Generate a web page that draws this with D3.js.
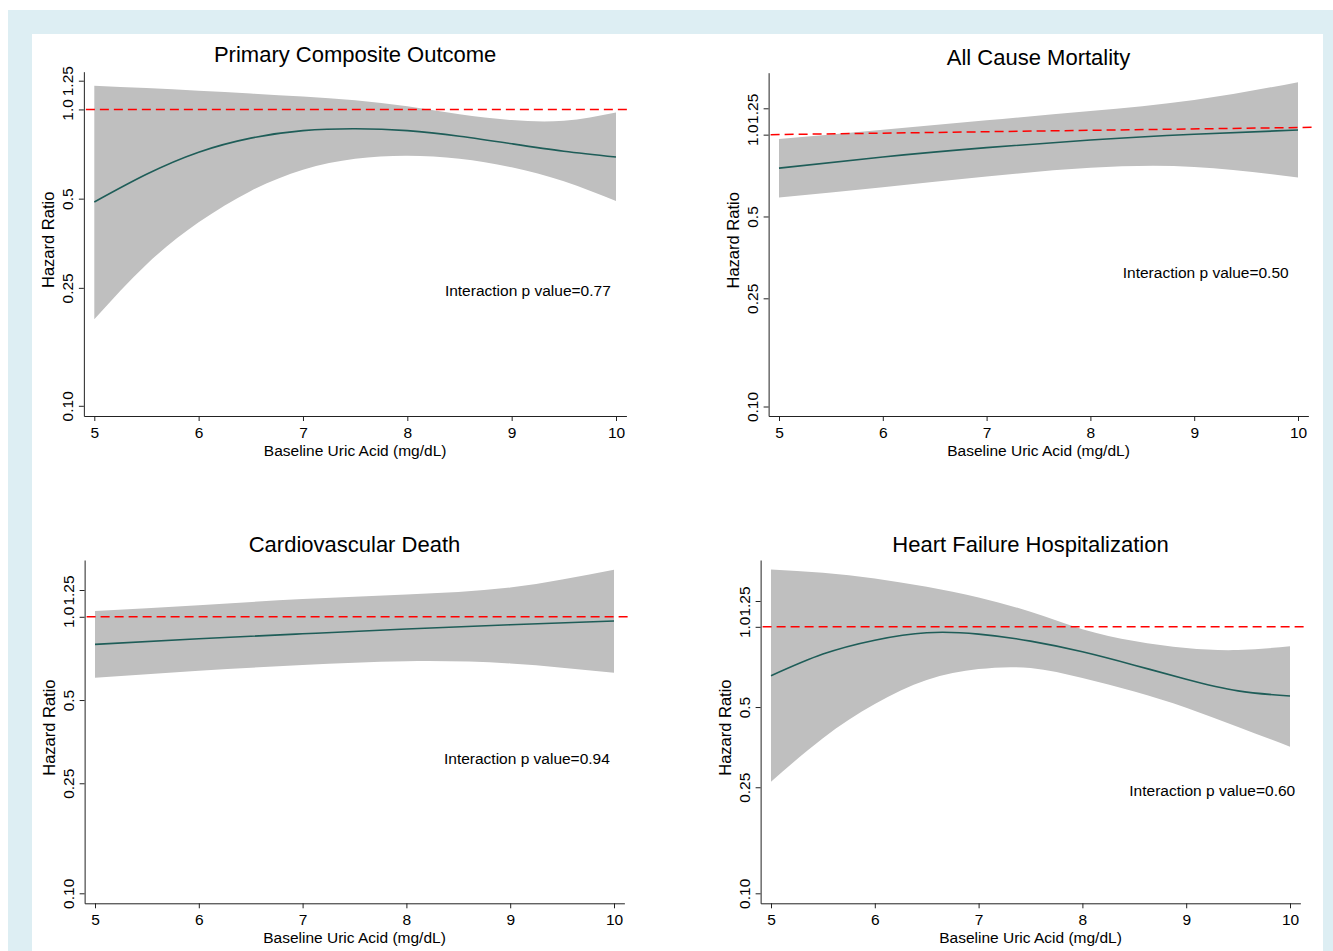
<!DOCTYPE html>
<html>
<head>
<meta charset="utf-8">
<script src="https://cdn.jsdelivr.net/npm/d3@7"></script>
<style>
  body { margin: 0; background: #fff; }
  svg { display: block; }
  text { font-family: "Liberation Sans", Arial, Helvetica, sans-serif; fill: #000; }
</style>
</head>
<body>
<svg id="chart" width="1333" height="951"></svg>
<script>
// ---- data ----
const xHalf  = [5, 5.5, 6, 6.5, 7, 7.5, 8, 8.5, 9, 9.5, 10];
const xWhole = [5, 6, 7, 8, 9, 10];
const xTickVals = [5, 6, 7, 8, 9, 10];
const yTickVals = [0.1, 0.25, 0.5, 1, 1.25];
const yTickLabels = ["0.10", "0.25", "0.5", "1.0", "1.25"];
const titles = ["Primary Composite Outcome", "All Cause Mortality", "Cardiovascular Death", "Heart Failure Hospitalization"];
const pValues = ["0.77", "0.50", "0.94", "0.60"];

// primary composite outcome
const p1Hr = [0.487, 0.604, 0.717, 0.800, 0.848, 0.861, 0.848, 0.812, 0.766, 0.723, 0.691];
const p1Lo = [0.196, 0.300, 0.416, 0.531, 0.626, 0.682, 0.698, 0.682, 0.638, 0.572, 0.491];
const p1Hi = [1.202, 1.180, 1.157, 1.132, 1.105, 1.073, 1.024, 0.964, 0.921, 0.916, 0.977];
// all cause mortality
const p2Hr = [0.753, 0.828, 0.896, 0.956, 1.003, 1.040];
const p2Lo = [0.587, 0.641, 0.701, 0.755, 0.761, 0.695];
const p2Hi = [0.964, 1.043, 1.129, 1.222, 1.341, 1.560];
// cardiovascular death
const p3Hr = [0.795, 0.833, 0.868, 0.903, 0.936, 0.965];
const p3Lo = [0.602, 0.638, 0.669, 0.691, 0.678, 0.627];
const p3Hi = [1.049, 1.102, 1.159, 1.205, 1.277, 1.480];
// heart failure hospitalization
const p4Hr = [0.655, 0.790, 0.891, 0.950, 0.939, 0.884, 0.806, 0.718, 0.636, 0.575, 0.550];
const p4Lo = [0.262, 0.382, 0.513, 0.631, 0.694, 0.700, 0.642, 0.572, 0.497, 0.421, 0.355];
const p4Hi = [1.641, 1.594, 1.519, 1.413, 1.289, 1.138, 0.980, 0.884, 0.832, 0.818, 0.846];

// reference line (HR=1) end values, left and right
const refLines = [[1, 1], [1, 1.064], [1, 1], [1, 1]];

// ---- layout ----
const panels = [
  { xs: xHalf,  hr: p1Hr, lo: p1Lo, hi: p1Hi, x5: 94.3, x10: 616, y10: 405.8, y125: 80.7, top: 71.7, bottom: 416,   titleY: 62,  pAt: [9.95, 0.245] },
  { xs: xWhole, hr: p2Hr, lo: p2Lo, hi: p2Hi, x5: 779,  x10: 1298, y10: 406.5, y125: 108.3, top: 72.7, bottom: 416,  titleY: 65,  pAt: [9.91, 0.311] },
  { xs: xWhole, hr: p3Hr, lo: p3Lo, hi: p3Hi, x5: 95,   x10: 614, y10: 893.3, y125: 590,   top: 560,  bottom: 903.3, titleY: 552, pAt: [9.96, 0.308] },
  { xs: xHalf,  hr: p4Hr, lo: p4Lo, hi: p4Hi, x5: 771,  x10: 1290, y10: 893.3, y125: 601,   top: 560,  bottom: 903.3, titleY: 552, pAt: [10.05, 0.242] }
];

const svg = d3.select("#chart");

// outer frame
svg.append("rect").attr("x", 8).attr("y", 10).attr("width", 1325).attr("height", 941).attr("fill", "#ddeef3");
svg.append("rect").attr("x", 32).attr("y", 34).attr("width", 1291).attr("height", 917).attr("fill", "#fff");

panels.forEach((p, i) => {
  // axis runs a little past 5 and 10, Stata-style
  const x = d3.scaleLinear().domain([5, 10]).range([p.x5, p.x10]);
  const left = x(4.9), right = x(10.1);
  x.domain([4.9, 10.1]).range([left, right]);

  const y = d3.scaleLog().domain([0.1, 1.25]).range([p.y10, p.y125]);
  const yLo = y.invert(p.bottom), yHi = y.invert(p.top);
  y.domain([yLo, yHi]).range([p.bottom, p.top]);

  const rows = p.xs.map((v, k) => ({ x: v, hr: p.hr[k], lo: p.lo[k], hi: p.hi[k] }));
  const g = svg.append("g");

  // confidence band
  g.append("path").datum(rows)
    .attr("fill", "#bfbfbf")
    .attr("d", d3.area().x(d => x(d.x)).y0(d => y(d.lo)).y1(d => y(d.hi)).curve(d3.curveNatural));

  // reference line
  const ref = refLines[i];
  g.append("line")
    .attr("x1", left + 2).attr("x2", right + 5)
    .attr("y1", y(ref[0])).attr("y2", y(ref[1]))
    .attr("stroke", "#ff0000").attr("stroke-width", 1.5).attr("stroke-dasharray", "9,5");

  // hazard ratio curve
  g.append("path").datum(rows)
    .attr("fill", "none").attr("stroke", "#1e5d58").attr("stroke-width", 1.6)
    .attr("d", d3.line().x(d => x(d.x)).y(d => y(d.hr)).curve(d3.curveNatural));

  // y axis
  const ya = g.append("g").attr("transform", `translate(${left},0)`)
    .call(d3.axisLeft(y).tickValues(yTickVals).tickFormat((d, k) => yTickLabels[k]).tickSize(5).tickSizeOuter(0));
  ya.selectAll("text")
    .attr("x", null).attr("dy", null)
    .attr("text-anchor", "middle")
    .attr("transform", "translate(-11,0) rotate(-90)")
    .style("font-size", "15.5px");

  // x axis
  const xa = g.append("g").attr("transform", `translate(0,${p.bottom})`)
    .call(d3.axisBottom(x).tickValues(xTickVals).tickFormat(d3.format("d")).tickSize(5).tickSizeOuter(0));
  xa.selectAll("text").attr("y", 21.5).attr("dy", null).style("font-size", "15.5px");

  [ya, xa].forEach(a => {
    a.selectAll("path, line").attr("stroke", "#222");
    a.attr("font-family", null).attr("font-size", null);
  });

  // titles and labels
  g.append("text").attr("x", (left + right) / 2).attr("y", p.titleY)
    .attr("text-anchor", "middle").style("font-size", "22px").text(titles[i]);

  g.append("text")
    .attr("transform", `translate(${left - 29.5},${(p.top + p.bottom) / 2 - 4}) rotate(-90)`)
    .attr("text-anchor", "middle").style("font-size", "16.5px").text("Hazard Ratio");

  g.append("text").attr("x", (left + right) / 2).attr("y", p.bottom + 39.5)
    .attr("text-anchor", "middle").style("font-size", "15.5px").text("Baseline Uric Acid (mg/dL)");

  g.append("text").attr("x", x(p.pAt[0])).attr("y", y(p.pAt[1])).attr("dy", "0.35em")
    .attr("text-anchor", "end").style("font-size", "15.5px").text("Interaction p value=" + pValues[i]);
});
</script>
</body>
</html>
